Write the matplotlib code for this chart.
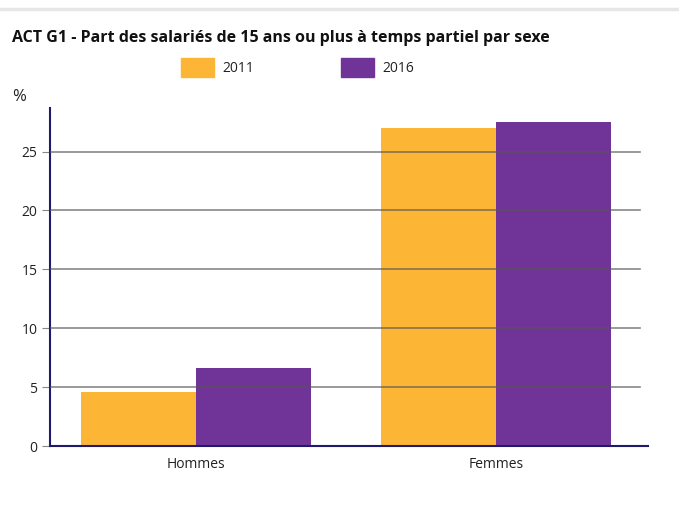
import numpy as np
import matplotlib.pyplot as plt
from matplotlib.patches import Rectangle
from matplotlib.lines import Line2D

# données
categories = ["Hommes", "Femmes"]
series = ["2011", "2016"]
values_2011 = [4.6, 27.0]
values_2016 = [6.6, 27.5]
yticks = [0, 5, 10, 15, 20, 25]

colors = ["#FDB535", "#703499"]
W, H = 679, 507

plt.rcParams["font.family"] = ["Open Sans", "DejaVu Sans"]

fig = plt.figure(figsize=(W / 100, H / 100), dpi=100)
ax = fig.add_axes([50 / W, 1 - 446 / H, 598 / W, 338 / H])

x = np.arange(len(categories))
bw = 0.383
ax.bar(x - bw / 2, values_2011, bw, color=colors[0], zorder=1)
ax.bar(x + bw / 2, values_2016, bw, color=colors[1], zorder=1)

ax.set_xlim(-0.487, 1.507)
ax.set_ylim(0, 28.7)

# grille par-dessus les barres
for v in yticks[1:]:
    ax.plot([-0.487, 1.48], [v, v], color="#555555", lw=1.2, alpha=0.7, zorder=3)

ax.set_yticks(yticks)
ax.set_xticks(x)
ax.set_xticklabels(categories, fontsize=10, color="#222222")
ax.tick_params(axis="y", length=6, color="#888888", labelsize=10, labelcolor="#222222", pad=3)
ax.tick_params(axis="x", length=0, pad=8)

for s in ["top", "right"]:
    ax.spines[s].set_visible(False)
ax.spines["left"].set_color("#1f1a6e")
ax.spines["bottom"].set_color("#1f1a6e")
ax.spines["left"].set_linewidth(1.5)
ax.spines["bottom"].set_linewidth(1.5)

# ligne grise en haut
fig.add_artist(Line2D([0, 1], [1 - 9 / H, 1 - 9 / H], color="#e6e6e6", lw=2.5))

fig.text(12 / W, 1 - 38 / H, "ACT G1 - Part des salariés de 15 ans ou plus à temps partiel par sexe",
         fontsize=11.5, fontweight="bold", va="center", ha="left", color="#111111")

# légende
for i, (name, xr) in enumerate(zip(series, [181, 341])):
    fig.add_artist(Rectangle((xr / W, 1 - 77 / H), 33 / W, 19 / H, color=colors[i],
                             transform=fig.transFigure))
    fig.text((xr + 41) / W, 1 - 68 / H, name, fontsize=10, va="center", ha="left", color="#222222")

fig.text(12 / W, 1 - 97 / H, "%", fontsize=12, va="center", ha="left", color="#222222")

fig.savefig("out.png", dpi=100)
